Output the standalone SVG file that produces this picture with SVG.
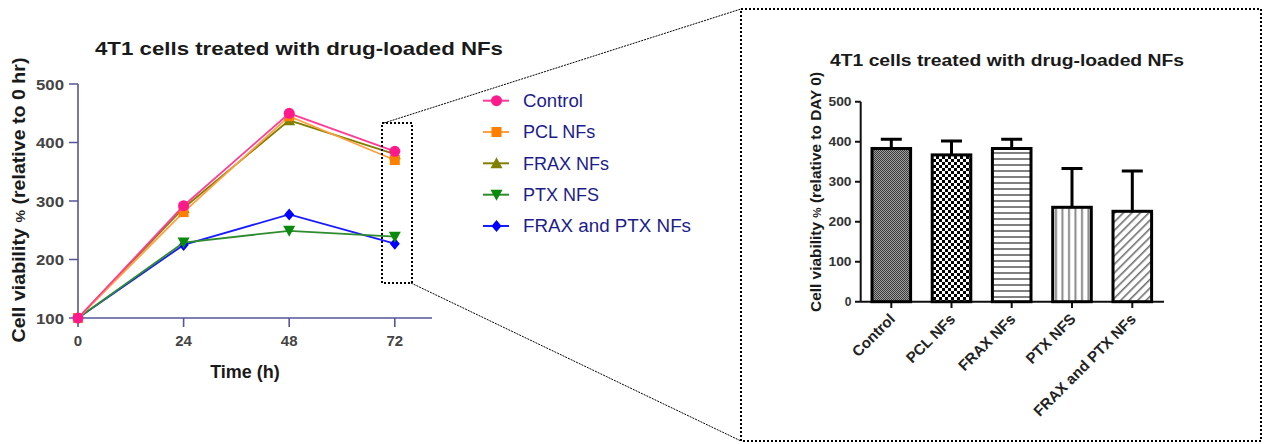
<svg xmlns="http://www.w3.org/2000/svg" width="1264" height="444" viewBox="0 0 1264 444">
<style>
text{font-family:"Liberation Sans",Arial,sans-serif}
.title{font-weight:bold;fill:#1a1a1a}
.tk{font-weight:bold;fill:#444;font-size:15px}
.tk2{font-weight:bold;fill:#333;font-size:12px}
.ax{stroke:#55559a;stroke-width:1.6;fill:none}
.ax2{stroke:#111;stroke-width:2;fill:none}
.leg{font-size:18px;fill:#1c1c8a}
.dot{fill:none;stroke:#000;stroke-width:2;stroke-dasharray:2 2}
.con{fill:none;stroke:#000;stroke-width:1;stroke-dasharray:2 1}
.bar{stroke:#000;stroke-width:3}
.err{stroke:#000;stroke-width:3;fill:none}
.xl{font-weight:bold;fill:#222;font-size:15px}
</style>
<defs>
<pattern id="pDense" width="2" height="2" patternUnits="userSpaceOnUse"><rect width="2" height="2" fill="#a0a0a0"/><rect width="1" height="1" fill="#3a3a3a"/><rect x="1" y="1" width="1" height="1" fill="#3a3a3a"/></pattern>
<pattern id="pCheck" width="6" height="6" patternUnits="userSpaceOnUse"><rect width="6" height="6" fill="#fff"/><rect width="3" height="3" fill="#000"/><rect x="3" y="3" width="3" height="3" fill="#000"/></pattern>
<pattern id="pHoriz" width="6" height="6" patternUnits="userSpaceOnUse"><rect width="6" height="6" fill="#fff"/><rect y="2" width="6" height="2" fill="#808080"/></pattern>
<pattern id="pVert" width="6.5" height="6" patternUnits="userSpaceOnUse"><rect width="6.5" height="6" fill="#fff"/><rect x="2" width="2" height="6" fill="#8a8a8a"/></pattern>
<pattern id="pDiag" width="6" height="6" patternUnits="userSpaceOnUse" patternTransform="rotate(45)"><rect width="6" height="6" fill="#fff"/><rect x="2" width="1.6" height="6" fill="#707070"/></pattern>
<circle id="mC" r="5.5" fill="#ff1a8c"/>
<rect id="mS" x="-5" y="-5" width="10" height="10" fill="#ff8000"/>
<path id="mT" d="M0,-6 L6,5 L-6,5 Z" fill="#808000"/>
<path id="mV" d="M0,6 L6,-5 L-6,-5 Z" fill="#0a8a0a"/>
<path id="mD" d="M0,-6 L5,0 L0,6 L-5,0 Z" fill="#0000ff"/>
</defs>

<g id="left-chart">
  <text class="title" x="95" y="55" font-size="18.5" textLength="408" lengthAdjust="spacingAndGlyphs">4T1 cells treated with drug-loaded NFs</text>
  <g id="left-axes">
    <path class="ax" d="M78,84 V318 H432"/>
    <path class="ax" d="M69,84 H78 M69,142.5 H78 M69,201 H78 M69,259.5 H78 M69,318 H78"/>
    <path class="ax" d="M78,318 V327 M183.6,318 V327 M289.2,318 V327 M394.8,318 V327"/>
    <g class="tk" text-anchor="end">
      <text x="64" y="89.5" textLength="28" lengthAdjust="spacingAndGlyphs">500</text>
      <text x="64" y="148" textLength="28" lengthAdjust="spacingAndGlyphs">400</text>
      <text x="64" y="206.5" textLength="28" lengthAdjust="spacingAndGlyphs">300</text>
      <text x="64" y="265" textLength="28" lengthAdjust="spacingAndGlyphs">200</text>
      <text x="64" y="323.5" textLength="28" lengthAdjust="spacingAndGlyphs">100</text>
    </g>
    <g class="tk" text-anchor="middle">
      <text x="78" y="346">0</text>
      <text x="183.6" y="346">24</text>
      <text x="289.2" y="346">48</text>
      <text x="394.8" y="346">72</text>
    </g>
    <text class="title" x="245" y="378" font-size="18" text-anchor="middle" fill="#333">Time (h)</text>
    <text class="title" transform="translate(25,200) rotate(-90)" font-size="18" text-anchor="middle" textLength="285" lengthAdjust="spacingAndGlyphs">Cell viability <tspan font-size="13">%</tspan> (relative to 0 hr)</text>
  </g>
  <g id="series-frax-ptx">
    <polyline points="78,318 183.6,244.9 289.2,214.5 394.8,243.7" fill="none" stroke="#1a1aff" stroke-width="1.8"/>
    <use href="#mD" x="183.6" y="244.9"/><use href="#mD" x="289.2" y="214.5"/><use href="#mD" x="394.8" y="243.7"/>
  </g>
  <g id="series-ptx">
    <polyline points="78,318 183.6,242.5 289.2,230.8 394.8,236.7" fill="none" stroke="#2e8b2e" stroke-width="1.8"/>
    <use href="#mV" x="183.6" y="242.5"/><use href="#mV" x="289.2" y="230.8"/><use href="#mV" x="394.8" y="236.7"/>
  </g>
  <g id="series-frax">
    <polyline points="78,318 183.6,208 289.2,120.3 394.8,154.2" fill="none" stroke="#808000" stroke-width="1.8"/>
    <use href="#mT" x="183.6" y="208"/><use href="#mT" x="289.2" y="120.3"/><use href="#mT" x="394.8" y="154.2"/>
  </g>
  <g id="series-pcl">
    <polyline points="78,318 183.6,212.1 289.2,116.2 394.8,160" fill="none" stroke="#ffa040" stroke-width="1.8"/>
    <use href="#mS" x="78" y="318"/><use href="#mS" x="183.6" y="212.1"/><use href="#mS" x="289.2" y="116.2"/><use href="#mS" x="394.8" y="160"/>
  </g>
  <g id="series-control">
    <polyline points="78,318 183.6,205.7 289.2,113.3 394.8,151.3" fill="none" stroke="#ff3c96" stroke-width="1.8"/>
    <use href="#mC" x="78" y="318"/><use href="#mC" x="183.6" y="205.7"/><use href="#mC" x="289.2" y="113.3"/><use href="#mC" x="394.8" y="151.3"/>
  </g>
</g>

<g id="legend">
  <g id="leg-control"><path d="M483,100.7 H509" stroke="#ff3c96" stroke-width="2"/><use href="#mC" x="496.5" y="100.7"/><text class="leg" x="523" y="106.7" textLength="60" lengthAdjust="spacingAndGlyphs">Control</text></g>
  <g id="leg-pcl"><path d="M483,132 H509" stroke="#ffa040" stroke-width="2"/><use href="#mS" x="496.5" y="132"/><text class="leg" x="523" y="138.3">PCL NFs</text></g>
  <g id="leg-frax"><path d="M483,163.3 H509" stroke="#808000" stroke-width="2"/><use href="#mT" x="496.5" y="163.3"/><text class="leg" x="523" y="169.5">FRAX NFs</text></g>
  <g id="leg-ptx"><path d="M483,194.7 H509" stroke="#2e8b2e" stroke-width="2"/><use href="#mV" x="496.5" y="194.7"/><text class="leg" x="523" y="200.8">PTX NFS</text></g>
  <g id="leg-fraxptx"><path d="M483,226 H509" stroke="#1a1aff" stroke-width="2"/><use href="#mD" x="496.5" y="226"/><text class="leg" x="523" y="232" textLength="168" lengthAdjust="spacingAndGlyphs">FRAX and PTX NFs</text></g>
</g>

<g id="zoom-box-small"><rect class="dot" x="382" y="123" width="30" height="160"/></g>
<g id="zoom-box-large"><rect class="dot" x="741" y="9" width="520" height="432"/></g>
<g id="connectors">
  <path class="con" d="M384,123 L741,9"/>
  <path class="con" d="M411,283 L741,441"/>
</g>

<g id="right-chart">
  <text class="title" x="830" y="66" font-size="16" textLength="354" lengthAdjust="spacingAndGlyphs">4T1 cells treated with drug-loaded NFs</text>
  <g id="right-axes">
    <path class="ax2" d="M860.7,101.7 V301.7 M855,301.7 H1164"/>
    <path class="ax2" d="M855,101.7 H860.7 M855,141.7 H860.7 M855,181.7 H860.7 M855,221.7 H860.7 M855,261.7 H860.7"/>
    <path class="ax2" d="M891.3,301.7 V308 M951.5,301.7 V308 M1011.7,301.7 V308 M1072,301.7 V308 M1132.3,301.7 V308"/>
    <g class="tk2" text-anchor="end">
      <text x="851.5" y="106" textLength="23" lengthAdjust="spacingAndGlyphs">500</text>
      <text x="851.5" y="146" textLength="23" lengthAdjust="spacingAndGlyphs">400</text>
      <text x="851.5" y="186" textLength="23" lengthAdjust="spacingAndGlyphs">300</text>
      <text x="851.5" y="226" textLength="23" lengthAdjust="spacingAndGlyphs">200</text>
      <text x="851.5" y="266" textLength="23" lengthAdjust="spacingAndGlyphs">100</text>
      <text x="851.5" y="306">0</text>
    </g>
    <text class="title" transform="translate(821,192) rotate(-90)" font-size="14" text-anchor="middle" textLength="240" lengthAdjust="spacingAndGlyphs">Cell viability <tspan font-size="10.5">%</tspan> (relative to DAY 0)</text>
  </g>
  <g id="bar-control">
    <path class="err" d="M891.3,148.5 V139.3 M880.8,139.3 H901.8"/>
    <rect class="bar" x="872" y="148.5" width="38.6" height="153.2" fill="url(#pDense)"/>
  </g>
  <g id="bar-pcl">
    <path class="err" d="M951.5,154.9 V140.9 M941,140.9 H962"/>
    <rect class="bar" x="932.2" y="154.9" width="38.6" height="146.8" fill="url(#pCheck)"/>
  </g>
  <g id="bar-frax">
    <path class="err" d="M1011.7,148.5 V139.3 M1001.2,139.3 H1022.2"/>
    <rect class="bar" x="992.4" y="148.5" width="38.6" height="153.2" fill="url(#pHoriz)"/>
  </g>
  <g id="bar-ptx">
    <path class="err" d="M1072,207.3 V168.5 M1061.5,168.5 H1082.5"/>
    <rect class="bar" x="1052.7" y="207.3" width="38.6" height="94.4" fill="url(#pVert)"/>
  </g>
  <g id="bar-fraxptx">
    <path class="err" d="M1132.3,211.3 V170.9 M1121.8,170.9 H1142.8"/>
    <rect class="bar" x="1113" y="211.3" width="38.6" height="90.4" fill="url(#pDiag)"/>
  </g>
  <g id="x-labels" text-anchor="end">
    <text class="xl" transform="translate(896,320) rotate(-45)">Control</text>
    <text class="xl" transform="translate(956.2,320) rotate(-45)">PCL NFs</text>
    <text class="xl" transform="translate(1016.4,320) rotate(-45)">FRAX NFs</text>
    <text class="xl" transform="translate(1076.7,320) rotate(-45)">PTX NFS</text>
    <text class="xl" transform="translate(1137,320) rotate(-45)">FRAX and PTX NFs</text>
  </g>
</g>
</svg>
